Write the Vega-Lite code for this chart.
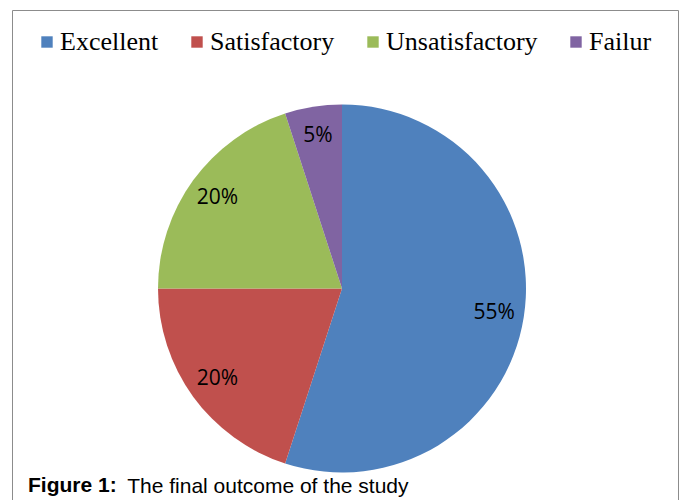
{
  "$schema": "https://vega.github.io/schema/vega-lite/v6.json",
  "width": 666,
  "height": 491,
  "autosize": {"type": "none"},
  "padding": {"left": 12, "top": 10, "right": 6, "bottom": 0},
  "background": "white",
  "view": {"stroke": "#8c8c8c", "strokeWidth": 1},
  "config": {"view": {"stroke": "#8c8c8c", "strokeWidth": 1}},
  "title": {
    "text": "Figure 1:",
    "subtitle": "\u200b\u00a0\u00a0\u00a0\u00a0\u00a0\u00a0\u00a0\u00a0\u00a0\u00a0\u00a0\u00a0\u00a0\u00a0\u00a0\u00a0\u00a0The final outcome of the study",
    "orient": "bottom",
    "anchor": "start",
    "frame": "group",
    "offset": -26,
    "dx": 16,
    "font": "Liberation Sans",
    "fontSize": 21,
    "fontWeight": "bold",
    "color": "black",
    "subtitleFont": "Liberation Sans",
    "subtitleFontSize": 21,
    "subtitleFontWeight": "normal",
    "subtitleColor": "black",
    "subtitlePadding": -20
  },
  "data": {
    "values": [
      {"category": "Excellent", "value": 55, "order": 1, "label": "55%"},
      {"category": "Satisfactory", "value": 20, "order": 2, "label": "20%"},
      {"category": "Unsatisfactory", "value": 20, "order": 3, "label": "20%"},
      {"category": "Failur", "value": 5, "order": 4, "label": "5%"}
    ]
  },
  "encoding": {
    "theta": {"field": "value", "type": "quantitative", "stack": true},
    "order": {"field": "order", "type": "quantitative", "sort": "ascending"}
  },
  "layer": [
    {
      "mark": {"type": "arc", "outerRadius": 184, "xOffset": -3, "yOffset": 33},
      "encoding": {
        "color": {
          "field": "category",
          "type": "nominal",
          "scale": {
            "domain": ["Excellent", "Satisfactory", "Unsatisfactory", "Failur"],
            "range": ["#4F81BD", "#C0504D", "#9BBB59", "#8064A2"]
          },
          "legend": {
            "title": null,
            "orient": "none",
            "legendX": 22,
            "legendY": 19,
            "direction": "horizontal",
            "symbolType": "square",
            "symbolSize": 130,
            "symbolStrokeWidth": 0,
            "labelFont": "Liberation Serif",
            "labelFontSize": 26,
            "labelColor": "black",
            "labelOffset": 0,
            "columnPadding": 25,
            "labelLimit": 300
          }
        }
      }
    },
    {
      "mark": {"type": "text", "radius": 154, "xOffset": -3, "yOffset": 33, "font": "Open Sans", "fontSize": 21, "color": "black"},
      "encoding": {
        "detail": {"field": "category", "type": "nominal"},
        "text": {"field": "label", "type": "nominal"}
      }
    }
  ]
}
